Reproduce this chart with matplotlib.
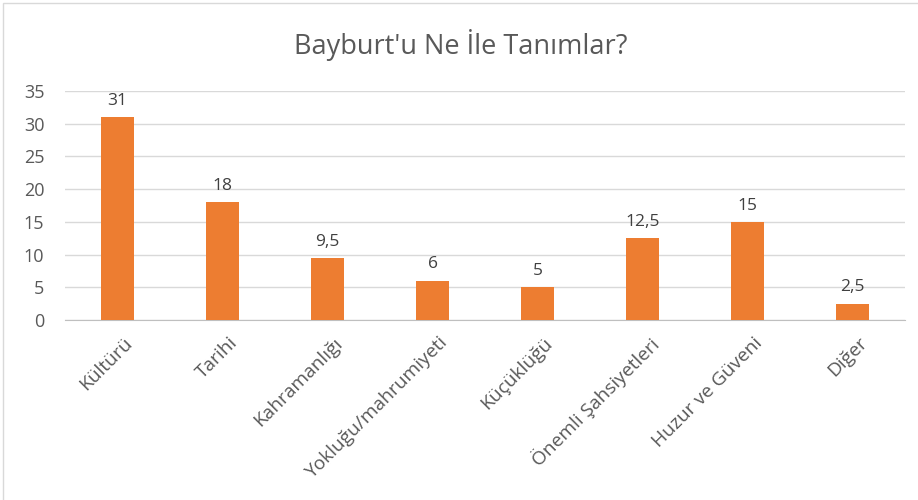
import matplotlib.pyplot as plt
from matplotlib.patches import Rectangle
from matplotlib.transforms import ScaledTranslation

# Veriler
kategoriler = ['Kültürü', 'Tarihi', 'Kahramanlığı', 'Yokluğu/mahrumiyeti',
               'Küçüklüğü', 'Önemli Şahsiyetleri', 'Huzur ve Güveni', 'Diğer']
degerler = [31, 18, 9.5, 6, 5, 12.5, 15, 2.5]
etiketler = ['31', '18', '9,5', '6', '5', '12,5', '15', '2,5']

plt.rcParams['font.family'] = ['Open Sans', 'DejaVu Sans']

fig = plt.figure(figsize=(9.18, 5), dpi=100)
ax = fig.add_axes([0.071, 0.36, 0.915, 0.458])

x = range(len(kategoriler))
bars = ax.bar(x, degerler, width=0.31, color='#ED7D31', zorder=3)

for b, et in zip(bars, etiketler):
    ax.annotate(et, (b.get_x() + b.get_width() / 2, b.get_height()),
                xytext=(0, 6), textcoords='offset points',
                ha='center', va='bottom', fontsize=12.5, color='#404040')

ax.set_ylim(0, 35)
ax.set_xlim(-0.5, len(kategoriler) - 0.5)
ax.set_yticks(range(0, 36, 5))
ax.set_xticks(list(x))
ax.set_xticklabels(kategoriler, rotation=45, ha='right', rotation_mode='anchor',
                   fontsize=13.8, color='#595959')
ax.tick_params(axis='y', labelsize=13, labelcolor='#595959', length=0, pad=15)
ax.tick_params(axis='x', length=0, pad=10)
ax.grid(axis='y', color='#D9D9D9', linewidth=1, zorder=0)

# etiketleri biraz sağa kaydır
kaydir = ScaledTranslation(6 / 100, 0, fig.dpi_scale_trans)
for lbl in ax.get_xticklabels():
    lbl.set_transform(lbl.get_transform() + kaydir)

for lado in ['top', 'right', 'left']:
    ax.spines[lado].set_visible(False)
ax.spines['bottom'].set_color('#BFBFBF')

fig.text(0.502, 0.91, "Bayburt'u Ne İle Tanımlar?", ha='center', va='center',
         fontsize=19.5, color='#595959')

# Grafik çerçevesi
fig.patches.append(Rectangle((0.003, -0.01), 1.1, 1.004, transform=fig.transFigure,
                             fill=False, edgecolor='#D9D9D9', linewidth=1))

fig.savefig('out.png', dpi=100)
